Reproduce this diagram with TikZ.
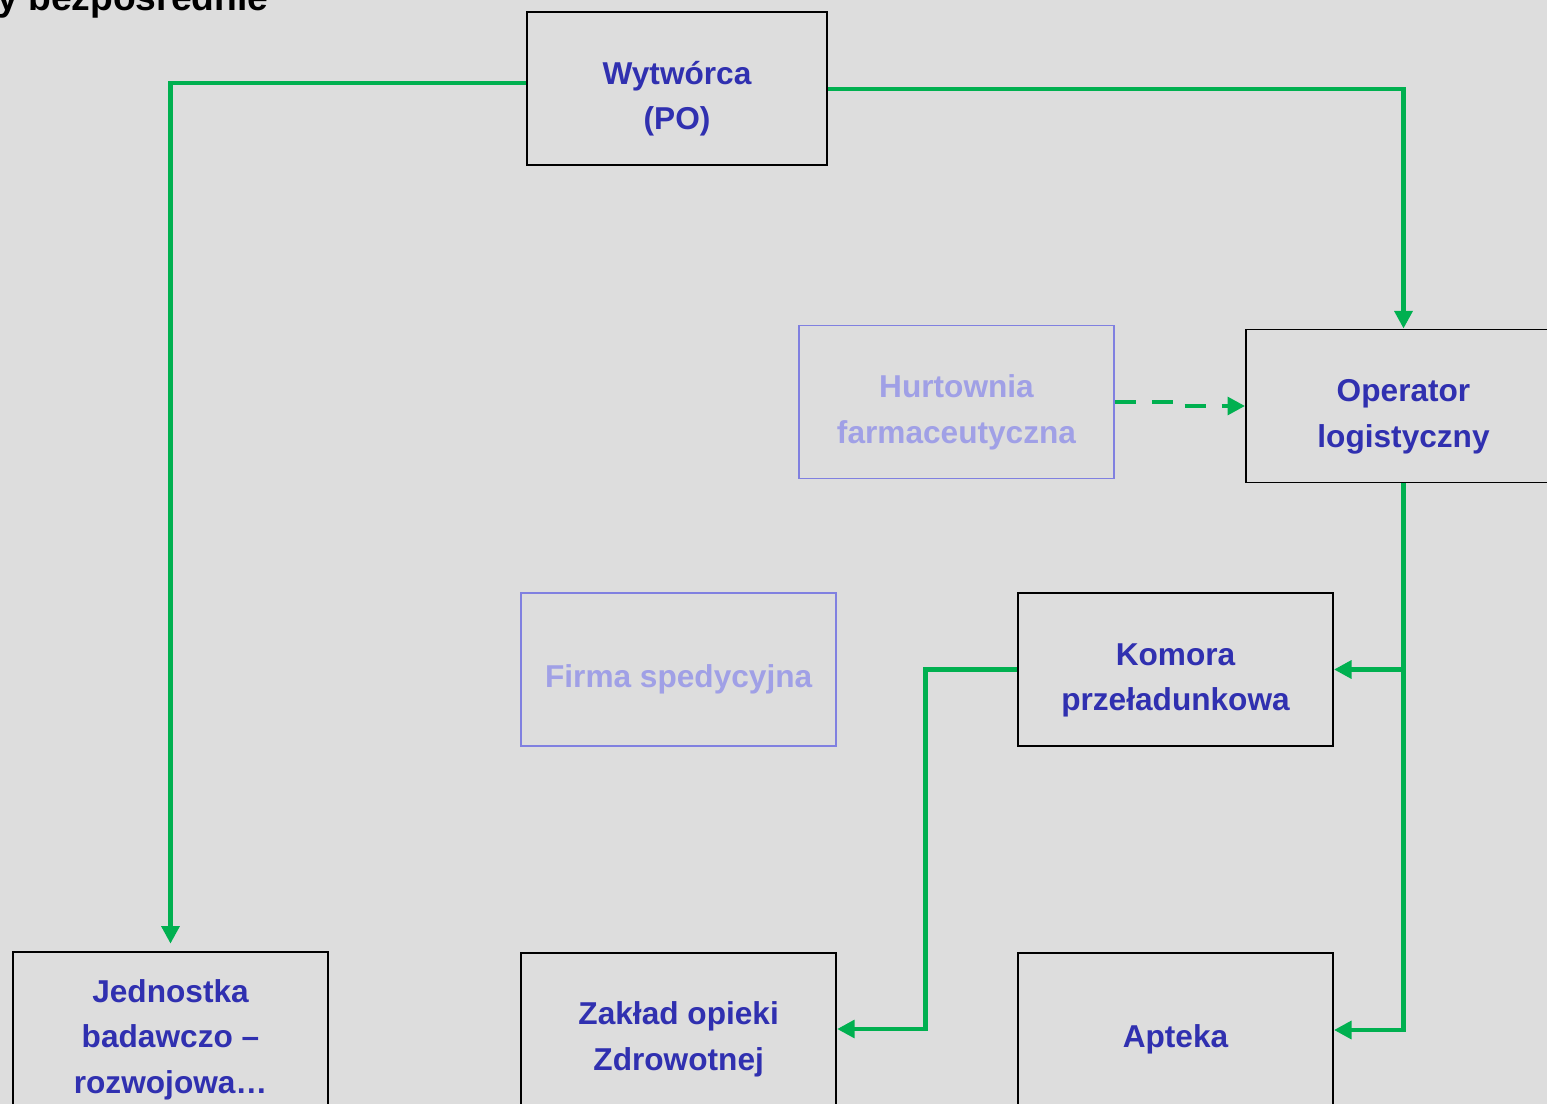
\documentclass[tikz,border=0pt]{standalone}
\usepackage{fontspec}
\setmainfont{Liberation Sans}
\usetikzlibrary{arrows.meta, positioning}
\definecolor{flowgreen}{HTML}{00B050}
\definecolor{boxtext}{HTML}{3030B0}
\definecolor{fadetext}{HTML}{A0A0E6}
\definecolor{fadeline}{HTML}{8080E0}
\definecolor{slidebg}{HTML}{DDDDDD}
\newcommand{\boxlines}[1]{\raisebox{0pt}[\dimexpr\height+10.6pt\relax][\depth]{\begin{tabular}{@{}c@{}}#1\end{tabular}}}

\begin{document}
\begin{tikzpicture}[
    x=0.02cm, y=-0.02cm,
    >={Triangle[length=10pt,width=10pt]},
    node distance=4.1cm and 3.6cm,
    orgbox/.style={draw=black, line width=1.1pt, minimum width=6.3cm, minimum height=3.06cm, inner sep=0pt, text=boxtext, font=\bfseries\fontsize{18}{26}\selectfont},
    orgfaded/.style={orgbox, draw=fadeline, text=fadetext},
    flowarrow/.style={->, flowgreen, line width=2.8pt},
    flowdashed/.style={flowarrow, dash pattern=on 12pt off 9pt}
]

\useasboundingbox (0,0) rectangle (1547,1104);
\clip (0,0) rectangle (1547,1104);
\fill[slidebg] (0,0) rectangle (1547,1104);

% --- Title (cut by the page edge) ---
\node[anchor=base west, inner sep=0pt, font=\bfseries\fontsize{21.2}{24}\selectfont] (title) at (-3,11) {y bezpośrednie};

% --- Boxes ---
\node[orgbox, minimum width=6cm] (wyt) at (677,88.5) {\boxlines{Wytwórca\\(PO)}};
\node[orgfaded] (hurt) at (956.5,402) {\boxlines{Hurtownia\\farmaceutyczna}};
\node[orgbox] (oper) at (1403.5,406) {\boxlines{Operator\\logistyczny}};
\node[orgbox] (komora) at (1175.5,669.5) {\boxlines{Komora\\przeładunkowa}};
\node[orgfaded, left=of komora] (firma) {\boxlines{Firma spedycyjna}};
\node[orgbox, below=of komora] (apteka) {\boxlines{Apteka}};
\node[orgbox, left=of apteka] (zaklad) {\boxlines{Zakład opieki\\Zdrowotnej}};
\node[orgbox] (jedn) at (170.5,1029.5) {\boxlines{Jednostka\\badawczo –\\rozwojowa…}};

% --- Flows ---
\draw[flowarrow, shorten >=4pt] (wyt.west |- 0,83) -| (jedn.north);
\draw[flowarrow] (wyt.east |- 0,89) -| (oper.north);
\draw[flowdashed] (hurt.east) -- ++(69,0) |- (oper.west);
\draw[flowarrow] (oper.south) |- (apteka.east |- 0,1030);
\draw[flowarrow] (oper.south |- komora.east) -- (komora.east);
\draw[flowarrow] (komora.west) -- ++(-92,0) |- (zaklad.east |- 0,1029);

\end{tikzpicture}
\end{document}
